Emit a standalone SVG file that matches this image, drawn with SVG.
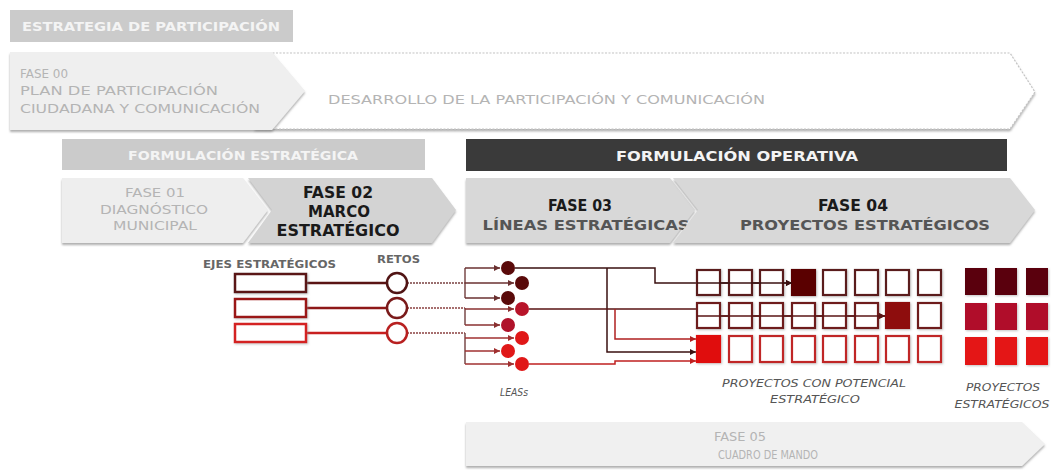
<svg xmlns="http://www.w3.org/2000/svg" width="1052" height="470" viewBox="0 0 1052 470">
<defs>
<style>
text{font-family:"DejaVu Sans","Liberation Sans",sans-serif}
.hd{fill:#f4f4f4;font-size:12px;font-weight:bold}
.faint{fill:#b4b4b4;font-size:12px}
.blk{fill:#1a1a1a;font-size:15px;font-weight:bold}
.sub{fill:#555;font-size:14px;font-weight:bold}
.lbl{fill:#666;font-size:10px;font-weight:bold}
.it{fill:#555;font-size:10px;font-style:italic}
.chev{filter:url(#sh)}
.br{fill:none;stroke-width:1.5}
.pj{fill:#fff;stroke-width:2.2}
</style>
<filter id="sh" x="-5%" y="-10%" width="110%" height="130%">
<feDropShadow dx="0" dy="2" stdDeviation="1.2" flood-color="#777" flood-opacity="0.6"/>
</filter>
<filter id="sq" x="-20%" y="-20%" width="150%" height="150%">
<feDropShadow dx="1" dy="1" stdDeviation="1" flood-color="#888" flood-opacity="0.5"/>
</filter>
<marker id="ah" viewBox="0 0 6 6" refX="6" refY="3" markerWidth="4" markerHeight="4" orient="auto">
<path d="M0,0 L6,3 L0,6 z" fill="context-stroke"/>
</marker>
</defs>
<rect width="1052" height="470" fill="#fff"/>

<g id="estrategia">
<rect x="10" y="10" width="283" height="32" fill="#cbcbcb"/>
<text class="hd" x="22" y="31" textLength="258" lengthAdjust="spacingAndGlyphs">ESTRATEGIA  DE  PARTICIPACIÓN</text>
</g>

<g id="desarrollo">
<polygon class="chev" points="255,53 1010,53 1035,92 1010,129 255,129" fill="#fff" stroke="#c4c4c4" stroke-width="1.2" stroke-dasharray="2,1.5"/>
<text class="faint" x="328" y="104" textLength="437" lengthAdjust="spacingAndGlyphs">DESARROLLO  DE  LA PARTICIPACIÓN  Y COMUNICACIÓN</text>
</g>

<g id="fase00">
<polygon class="chev" points="10,52 272,52 305,91 272,130 10,130" fill="#efefef"/>
<text class="faint" x="20" y="78" textLength="48" lengthAdjust="spacingAndGlyphs">FASE 00</text>
<text class="faint" x="20" y="95" textLength="198" lengthAdjust="spacingAndGlyphs">PLAN  DE  PARTICIPACIÓN</text>
<text class="faint" x="20" y="113" textLength="240" lengthAdjust="spacingAndGlyphs">CIUDADANA  Y  COMUNICACIÓN</text>
</g>

<g id="formulacion-estrategica">
<rect x="62" y="139" width="363" height="31" fill="#cbcbcb"/>
<text class="hd" x="243" y="160" text-anchor="middle" textLength="230" lengthAdjust="spacingAndGlyphs">FORMULACIÓN  ESTRATÉGICA</text>
</g>

<g id="formulacion-operativa">
<rect x="466" y="139" width="541" height="32" fill="#3a3a3a"/>
<text x="737" y="161" text-anchor="middle" fill="#f4f4f4" font-size="14" font-weight="bold" textLength="242" lengthAdjust="spacingAndGlyphs">FORMULACIÓN OPERATIVA</text>
</g>

<g id="fase01">
<polygon class="chev" points="62,178 243,178 268,210 243,243 62,243" fill="#eeeeee"/>
<text class="faint" x="155" y="197" text-anchor="middle" textLength="60" lengthAdjust="spacingAndGlyphs">FASE 01</text>
<text class="faint" x="154" y="214" text-anchor="middle" textLength="108" lengthAdjust="spacingAndGlyphs">DIAGNÓSTICO</text>
<text class="faint" x="155" y="230" text-anchor="middle" textLength="84" lengthAdjust="spacingAndGlyphs">MUNICIPAL</text>
</g>

<g id="fase02">
<polygon class="chev" points="248,178 432,178 456,210 432,243 248,243 272,210" fill="#d3d3d3"/>
<text class="blk" x="338" y="198" text-anchor="middle" textLength="70" lengthAdjust="spacingAndGlyphs">FASE 02</text>
<text class="blk" x="339" y="217" text-anchor="middle" textLength="62" lengthAdjust="spacingAndGlyphs">MARCO</text>
<text class="blk" x="338" y="236" text-anchor="middle" textLength="123" lengthAdjust="spacingAndGlyphs">ESTRATÉGICO</text>
</g>

<g id="fase03">
<polygon class="chev" points="466,178 670,178 695,210 670,243 466,243" fill="#d8d8d8"/>
<text class="blk" x="580" y="211" text-anchor="middle" textLength="64" lengthAdjust="spacingAndGlyphs">FASE 03</text>
<text class="sub" x="586" y="230" text-anchor="middle" textLength="207" lengthAdjust="spacingAndGlyphs">LÍNEAS ESTRATÉGICAS</text>
</g>

<g id="fase04">
<polygon class="chev" points="673,178 1010,178 1035,210 1010,243 673,243 698,210" fill="#d8d8d8"/>
<text class="blk" x="853" y="211" text-anchor="middle" textLength="70" lengthAdjust="spacingAndGlyphs">FASE 04</text>
<text class="sub" x="865" y="230" text-anchor="middle" textLength="250" lengthAdjust="spacingAndGlyphs">PROYECTOS ESTRATÉGICOS</text>
</g>

<g id="fase05">
<polygon class="chev" points="466,422 1022,422 1045,444 1022,466 466,466" fill="#f0f0f0"/>
<text class="faint" x="740" y="441" text-anchor="middle" textLength="52" lengthAdjust="spacingAndGlyphs">FASE 05</text>
<text class="faint" x="768" y="459" text-anchor="middle" textLength="100" lengthAdjust="spacingAndGlyphs">CUADRO  DE  MANDO</text>
</g>

<g id="labels">
<text class="lbl" x="203" y="268" textLength="133" lengthAdjust="spacingAndGlyphs">EJES ESTRATÉGICOS</text>
<text class="lbl" x="377" y="263" font-size="9" textLength="43" lengthAdjust="spacingAndGlyphs">RETOS</text>
<text class="it" x="500" y="396" textLength="28" lengthAdjust="spacingAndGlyphs">LEASs</text>
<text class="it" x="814" y="387" text-anchor="middle" textLength="184" lengthAdjust="spacingAndGlyphs">PROYECTOS  CON  POTENCIAL</text>
<text class="it" x="815" y="403" text-anchor="middle" textLength="90" lengthAdjust="spacingAndGlyphs">ESTRATÉGICO</text>
<text class="it" x="1003" y="391" text-anchor="middle" textLength="74" lengthAdjust="spacingAndGlyphs">PROYECTOS</text>
<text class="it" x="1002" y="408" text-anchor="middle" textLength="95" lengthAdjust="spacingAndGlyphs">ESTRATÉGICOS</text>
</g>

<g id="connectors">
<line x1="306" y1="283" x2="387" y2="283" stroke="#5a1414" stroke-width="2.5"/>
<line x1="306" y1="308" x2="387" y2="308" stroke="#8e1818" stroke-width="2.5"/>
<line x1="306" y1="333" x2="387" y2="333" stroke="#c82020" stroke-width="2.5"/>
<g stroke-dasharray="2,1" stroke-width="1.5" fill="none">
<line x1="407" y1="283" x2="465" y2="283" stroke="#7a4040"/>
<line x1="407" y1="308" x2="465" y2="308" stroke="#8a4040"/>
<line x1="407" y1="333" x2="465" y2="333" stroke="#8a4040"/>
</g>
<g class="br" stroke="#7a4a4a">
<polyline points="465,268 465,298"/>
<polyline points="465,308 465,325"/>
<polyline points="465,333 465,364"/>
</g>
<g class="br" marker-end="url(#ah)">
<line x1="465" y1="268" x2="500" y2="268" stroke="#6a3030"/>
<line x1="465" y1="283" x2="514" y2="283" stroke="#6a3030"/>
<line x1="465" y1="298" x2="500" y2="298" stroke="#6a3030"/>
<line x1="465" y1="309" x2="514" y2="309" stroke="#8a3030"/>
<line x1="465" y1="325" x2="500" y2="325" stroke="#8a3030"/>
<line x1="465" y1="338" x2="514" y2="338" stroke="#a03030"/>
<line x1="465" y1="351" x2="500" y2="351" stroke="#a03030"/>
<line x1="465" y1="364" x2="514" y2="364" stroke="#a03030"/>
</g>
<g class="br" marker-end="url(#ah)">
<polyline points="515,268 655,268 655,283 792,283" stroke="#3a1010"/>
<polyline points="607,268 607,352 696,352" stroke="#3a1010"/>
<polyline points="529,309 708,309 708,316 885,316" stroke="#5a1515"/>
<polyline points="615,309 615,339 696,339" stroke="#b02020"/>
<polyline points="529,364 615,364 615,361 696,361" stroke="#c02020"/>
</g>
</g>

<g id="ejes">
<rect x="235" y="274" width="71" height="18" fill="#fff" stroke="#5a1414" stroke-width="2.5" filter="url(#sq)"/>
<rect x="235" y="299" width="71" height="18" fill="#fff" stroke="#9a1818" stroke-width="2.5" filter="url(#sq)"/>
<rect x="235" y="324" width="71" height="18" fill="#fff" stroke="#d42020" stroke-width="2.5" filter="url(#sq)"/>
</g>

<g id="retos">
<circle cx="397" cy="283" r="10" fill="#fff" stroke="#501414" stroke-width="2.5"/>
<circle cx="397" cy="308" r="10" fill="#fff" stroke="#7a1a1a" stroke-width="2.5"/>
<circle cx="397" cy="333" r="10" fill="#fff" stroke="#b82020" stroke-width="2.5"/>
</g>

<g id="leas">
<circle cx="508" cy="268" r="7" fill="#5a0a0a"/>
<circle cx="522" cy="283" r="7" fill="#5a0a0a"/>
<circle cx="508" cy="298" r="7" fill="#5a0a0a"/>
<circle cx="522" cy="309" r="7" fill="#b8142a"/>
<circle cx="508" cy="325" r="7" fill="#b0122a"/>
<circle cx="522" cy="338" r="7" fill="#e01818"/>
<circle cx="508" cy="351" r="7" fill="#e01818"/>
<circle cx="522" cy="364" r="7" fill="#e01818"/>
</g>

<g id="proyectos-potencial" filter="url(#sq)">
<g stroke="#5a1a1a">
<rect class="pj" x="697" y="270" width="23" height="25"/>
<rect class="pj" x="729" y="270" width="23" height="25"/>
<rect class="pj" x="760" y="270" width="23" height="25"/>
<rect x="792" y="270" width="23" height="25" fill="#5a0505" stroke="#5a0505" stroke-width="2.2"/>
<rect class="pj" x="823" y="270" width="23" height="25"/>
<rect class="pj" x="855" y="270" width="23" height="25"/>
<rect class="pj" x="886" y="270" width="23" height="25"/>
<rect class="pj" x="918" y="270" width="23" height="25"/>
</g>
<g stroke="#6e1a1a">
<rect class="pj" x="697" y="303" width="23" height="25"/>
<rect class="pj" x="729" y="303" width="23" height="25"/>
<rect class="pj" x="760" y="303" width="23" height="25"/>
<rect class="pj" x="792" y="303" width="23" height="25"/>
<rect class="pj" x="823" y="303" width="23" height="25"/>
<rect class="pj" x="855" y="303" width="23" height="25"/>
<rect x="886" y="303" width="23" height="25" fill="#8e0a0a" stroke="#8e0a0a" stroke-width="2.2"/>
<rect class="pj" x="918" y="303" width="23" height="25"/>
</g>
<g stroke="#c02525">
<rect x="697" y="336" width="23" height="26" fill="#e01010" stroke="#e01010" stroke-width="2.2"/>
<rect class="pj" x="729" y="336" width="23" height="26"/>
<rect class="pj" x="760" y="336" width="23" height="26"/>
<rect class="pj" x="792" y="336" width="23" height="26"/>
<rect class="pj" x="823" y="336" width="23" height="26"/>
<rect class="pj" x="855" y="336" width="23" height="26"/>
<rect class="pj" x="886" y="336" width="23" height="26"/>
<rect class="pj" x="918" y="336" width="23" height="26"/>
</g>
</g>
<g id="connectors-over" class="br" marker-end="url(#ah)">
<line x1="697" y1="283" x2="792" y2="283" stroke="#3a1010"/>
<line x1="697" y1="316" x2="885" y2="316" stroke="#5a1515"/>
</g>

<g id="proyectos-estrategicos" filter="url(#sq)">
<rect x="965" y="268" width="22" height="27" fill="#5a0008"/>
<rect x="995" y="268" width="22" height="27" fill="#5a0008"/>
<rect x="1026" y="268" width="22" height="27" fill="#5a0008"/>
<rect x="965" y="303" width="22" height="27" fill="#b0102a"/>
<rect x="995" y="303" width="22" height="27" fill="#b0102a"/>
<rect x="1026" y="303" width="22" height="27" fill="#b0102a"/>
<rect x="965" y="337" width="22" height="28" fill="#e41414"/>
<rect x="995" y="337" width="22" height="28" fill="#e41414"/>
<rect x="1026" y="337" width="22" height="28" fill="#e41414"/>
</g>
</svg>
